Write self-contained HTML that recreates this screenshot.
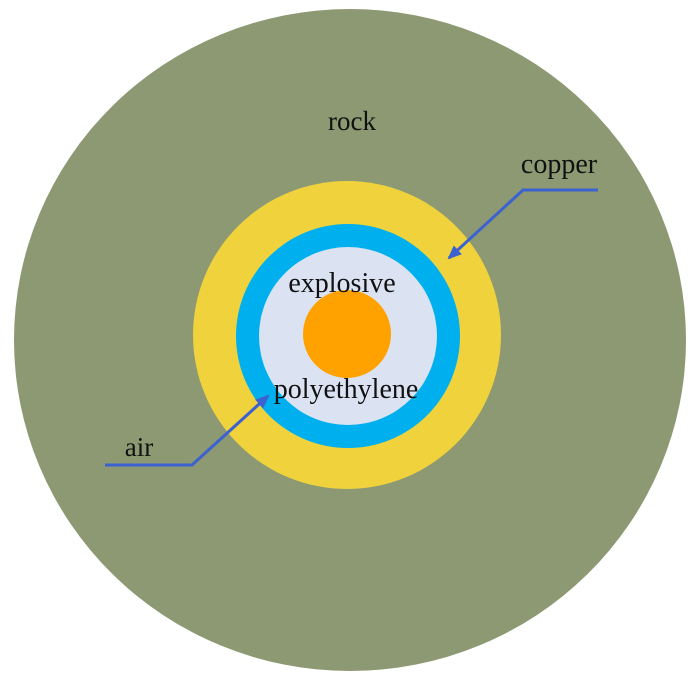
<!DOCTYPE html>
<html><head><style>html,body{margin:0;padding:0;background:#fff}svg{display:block}text{font-family:"Liberation Serif",serif;fill:#111}</style></head>
<body>
<svg width="700" height="684" viewBox="0 0 700 684" xmlns="http://www.w3.org/2000/svg">
<defs><marker id="ah" markerWidth="14" markerHeight="12" refX="12" refY="6" orient="auto" markerUnits="userSpaceOnUse"><path d="M0,0 L14,6 L0,12 Z" fill="#3b62d0"/></marker></defs>
<ellipse cx="350" cy="340" rx="336" ry="331" fill="#8c9972"/>
<circle cx="347" cy="335" r="154" fill="#efd23c"/>
<circle cx="348" cy="336" r="112" fill="#00b0ee"/>
<circle cx="348" cy="336" r="89" fill="#dbe3f3"/>
<circle cx="347" cy="334" r="44" fill="#ffa200"/>
<text x="352" y="130" font-size="27" text-anchor="middle">rock</text>
<text x="559" y="173" font-size="28" text-anchor="middle">copper</text>
<text x="342" y="292" font-size="28" text-anchor="middle">explosive</text>
<text x="346" y="398" font-size="28" text-anchor="middle">polyethylene</text>
<text x="139" y="456" font-size="27" text-anchor="middle">air</text>
<polyline points="598,190 523,190 449,258" fill="none" stroke="#3b62d0" stroke-width="3" marker-end="url(#ah)"/>
<polyline points="105,465 192,465 268,396" fill="none" stroke="#3b62d0" stroke-width="3" marker-end="url(#ah)"/>
</svg>
</body></html>
